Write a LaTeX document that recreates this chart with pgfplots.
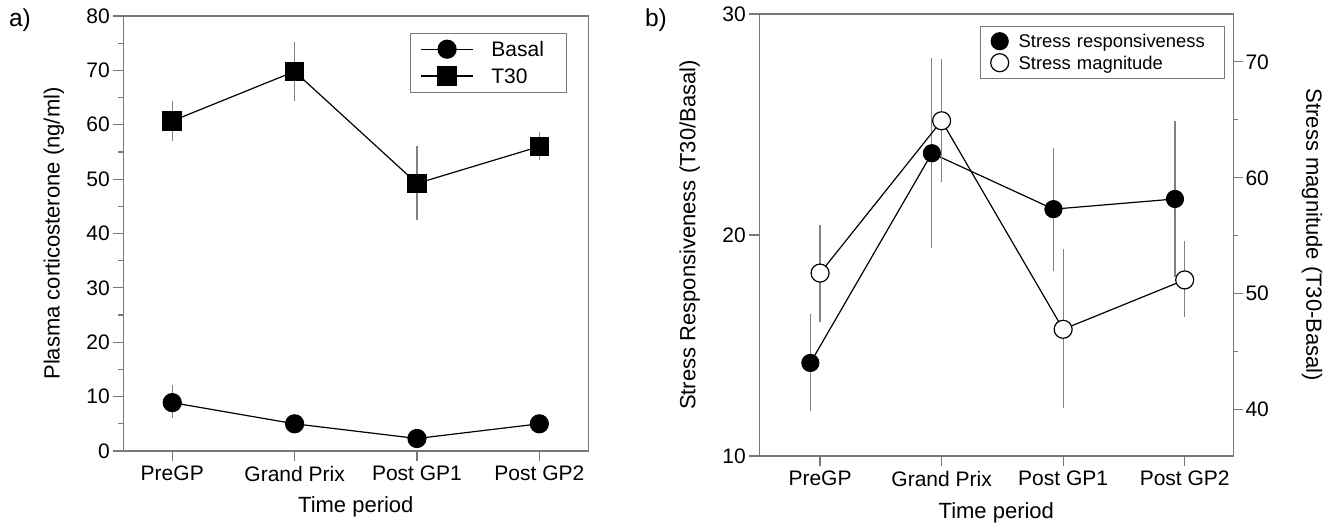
\documentclass[border=0pt]{standalone}
\usepackage{fontspec}
\setmainfont{Liberation Sans}
\usepackage{pgfplots}
\pgfplotsset{compat=1.18}
\definecolor{framegray}{RGB}{120,120,120}
\definecolor{errgray}{RGB}{130,130,130}
\pgfplotstableread{
x y ep em
0 60.7 3.7 3.7
1 69.8 5.5 5.4
2 49.2 6.9 6.8
3 56.0 2.6 2.5
}\tthirty
\pgfplotstableread{
x y ep em
0 8.9 3.3 2.9
1 5.0 0.8 0.8
2 2.3 0.6 0.6
3 5.0 0.8 0.8
}\basal
\pgfplotstableread{
x y ep em
-0.08 14.21 2.21 2.17
0.92 23.70 4.32 4.27
1.92 21.17 2.77 2.80
2.92 21.63 3.55 3.55
}\resp
\pgfplotstableread{
x y ep em
0 51.78 4.14 4.19
1 64.92 5.37 5.31
2 46.93 6.96 6.83
3 51.19 3.37 3.24
}\magn
\begin{document}
\begin{tikzpicture}
\useasboundingbox (0pt,0pt) rectangle (1330pt,525pt);
\pgfplotsset{
 common/.style={
  scale only axis,
  /pgf/number format/assume math mode=true,
  axis line style={framegray, line width=1.2pt},
  tick style={framegray, line width=1.2pt},
  tick align=outside,
  major tick length=10pt,
  minor tick length=5pt,
  xtick={0,1,2,3},
  xticklabels={PreGP, Grand Prix, Post GP1, Post GP2},
  xmax=3.4,
  tick label style={font=\fontsize{21}{25}\selectfont, text=black},
  xticklabel style={yshift=-1.5pt},
  label style={font=\fontsize{22}{26}\selectfont},
  clip=false,
 },
 errs/.style={error bars/.cd, y dir=both, y explicit,
   error bar style={errgray, line width=1.2pt}, error mark=none},
}
\node[font=\fontsize{24.5}{28}\selectfont] at (20pt,505pt) {a)};
\node[font=\fontsize{24.5}{28}\selectfont] at (656pt,505pt) {b)};
% ---------------- panel a
\begin{axis}[common,
  at={(123.3pt,74pt)}, anchor=south west, width=465pt, height=435pt,
  xmin=-0.4,
  ymin=0, ymax=80, ytick={0,10,...,80}, minor ytick={5,15,...,75},
  tick pos=left,
  xlabel={Time period}, ylabel={Plasma corticosterone (ng/ml)},
  xlabel style={at={(axis description cs:0.5,-0.129)}, anchor=center},
  ylabel style={at={(axis description cs:-0.149,0.5)}, anchor=center},
  legend style={at={(axis description cs:0.9542,0.9616)}, anchor=north east,
    draw=framegray, line width=1pt, font=\fontsize{21}{25}\selectfont,
    inner xsep=9.6pt, inner ysep=7pt, row sep=8.5pt, column sep=0pt,
    nodes={inner sep=0pt, text depth=0pt, text width=65.5pt, align=left}},
  legend cell align=left,
  legend image code/.code={%
    \path[draw=none, fill=none] (0pt,0pt) -- (70.3pt,0pt);
    \draw[mark repeat=2, mark phase=2, #1] plot coordinates {(0pt,0pt) (26pt,0pt) (52pt,0pt)};},
]
\addplot[black, line width=1.2pt, mark=*, mark size=9pt, errs]
  table[x=x, y=y, y error plus=ep, y error minus=em] {\basal};
\addlegendentry{Basal}
\addplot[black, line width=1.2pt, mark=square*, mark size=9.2pt, errs]
  table[x=x, y=y, y error plus=ep, y error minus=em] {\tthirty};
\addlegendentry{T30}
\end{axis}
% ---------------- panel b, left axis
\begin{axis}[common,
  at={(759.3pt,69pt)}, anchor=south west, width=474pt, height=442pt,
  xmin=-0.5,
  ymin=10, ymax=30, ytick={10,20,30},
  tick pos=left,
  xlabel={Time period}, ylabel={Stress Responsiveness (T30/Basal)},
  xlabel style={at={(axis description cs:0.5,-0.129)}, anchor=center},
  ylabel style={at={(axis description cs:-0.147,0.5)}, anchor=center},
]
\addplot[black, line width=1.2pt, mark=*, mark size=8.5pt, errs]
  table[x=x, y=y, y error plus=ep, y error minus=em] {\resp};
\end{axis}
% ---------------- panel b, right axis
\begin{axis}[common,
  at={(759.3pt,69pt)}, anchor=south west, width=474pt, height=442pt,
  xmin=-0.5,
  axis x line=none, axis y line*=right,
  ymin=36, ymax=74.13, ytick={40,50,60,70}, minor ytick={45,55,65},
  ylabel={Stress magnitude (T30-Basal)},
  ylabel style={at={(axis description cs:1.166,0.5)}, anchor=center, rotate=180},
  yticklabel style={inner xsep=2pt},
  legend style={at={(axis description cs:0.9825,0.973)}, anchor=north east,
    draw=framegray, line width=1pt, font=\fontsize{18.4}{22}\selectfont,
    inner xsep=9.8pt, inner ysep=6.3pt, row sep=4pt, column sep=0pt,
    nodes={inner sep=0pt, text depth=0pt, text width=196pt, align=left}},
  legend cell align=left,
  legend image code/.code={%
    \path[draw=none, fill=none] (0pt,0pt) -- (27.5pt,0pt);
    \draw[#1] plot coordinates {(8.5pt,0pt)};},
]
\addlegendimage{black, line width=1.2pt, mark=*, mark size=8.5pt}
\addlegendentry{Stress responsiveness}
\addplot[black, line width=1.2pt, mark=*, mark size=9pt, mark options={fill=white}, errs]
  table[x=x, y=y, y error plus=ep, y error minus=em] {\magn};
\addlegendentry{Stress magnitude}
\end{axis}
\end{tikzpicture}
\end{document}
